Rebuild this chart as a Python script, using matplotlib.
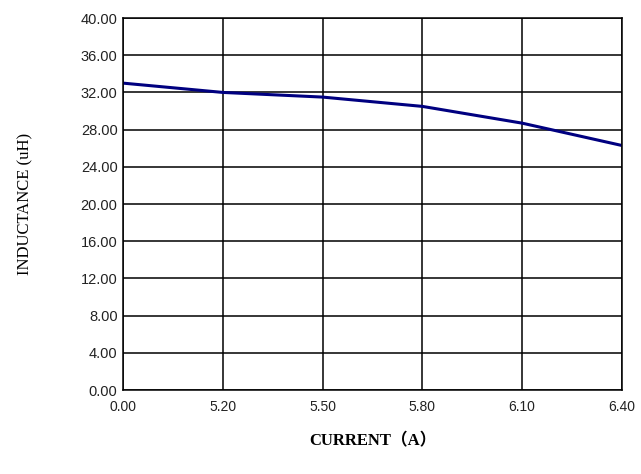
import numpy as np
import matplotlib.pyplot as plt

current_labels = ["0.00", "5.20", "5.50", "5.80", "6.10", "6.40"]
inductance = [33.0, 32.0, 31.5, 30.5, 28.7, 26.3]
y_ticks = [0, 4, 8, 12, 16, 20, 24, 28, 32, 36, 40]

fig = plt.figure(figsize=(6.41, 4.74), dpi=100)
ax = fig.add_axes([0.192, 0.177, 0.778, 0.785])

x = np.arange(len(current_labels))
ax.plot(x, inductance, color="#000080", lw=2.2, solid_capstyle="butt")

ax.set_xlim(0, len(current_labels) - 1)
ax.set_ylim(0, 40)
ax.set_xticks(x)
ax.set_xticklabels(current_labels, family="Liberation Sans", fontsize=10, color="#222222")
ax.set_yticks(y_ticks)
ax.set_yticklabels(["%.2f" % v for v in y_ticks], family="Liberation Sans", fontsize=10.5, color="#222222")
ax.tick_params(axis="y", length=0, pad=4)
ax.tick_params(axis="x", length=0, pad=7)
ax.grid(True, color="black", lw=1.1)
ax.set_axisbelow(True)
for s in ax.spines.values():
    s.set_color("black")
    s.set_linewidth(1.1)

ax.set_ylabel("INDUCTANCE (uH)", family="Liberation Serif", fontsize=12, labelpad=34)
ax.set_xlabel("CURRENT（A）", family=["Liberation Serif", "Noto Sans CJK SC"],
              fontsize=12, fontweight="bold", labelpad=14)

fig.savefig("out.png", dpi=100)
